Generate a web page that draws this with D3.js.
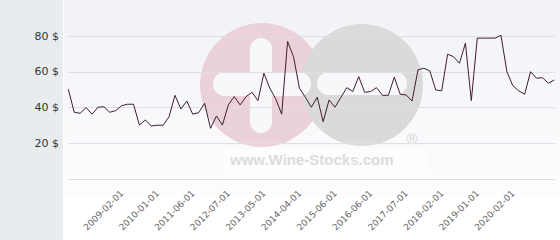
<!DOCTYPE html>
<html>
<head>
<meta charset="utf-8">
<script src="https://cdn.jsdelivr.net/npm/d3@7"></script>
<style>
  html, body { margin: 0; padding: 0; background: #fff; }
  svg { display: block; font-family: "DejaVu Sans", Verdana, sans-serif; }
</style>
</head>
<body>
<div class="price-chart"></div>
<script>
// prices in $, one per auction point
const prices = [
  50.1, 37.2, 36.6, 39.8, 36.1, 40.0, 40.3, 37.2, 38.1, 40.9,
  41.7, 41.7, 30.0, 32.9, 29.5, 29.9, 29.9, 34.7, 46.7, 39.0,
  43.5, 36.1, 37.0, 42.2, 28.2, 35.1, 30.0, 41.3, 46.0, 41.3,
  46.0, 48.4, 43.7, 59.1, 50.7, 44.7, 36.1, 76.9, 68.4, 50.7,
  45.6, 40.0, 45.6, 31.9, 44.1, 40.0, 45.6, 51.0, 48.8, 57.2,
  48.4, 48.8, 51.0, 46.7, 46.7, 56.9, 47.3, 46.9, 43.5, 61.0,
  61.9, 60.4, 49.7, 49.2, 69.8, 68.4, 64.7, 76.0, 43.7, 78.8,
  78.8, 78.8, 78.8, 80.4, 60.0, 52.1, 49.2, 47.3, 60.0, 56.3,
  56.6, 53.5, 55.3
]
// labelled categories and the point each one sits on
const tickLabels = [
  "2009-02-01", "2010-01-01", "2011-06-01", "2012-07-01", "2013-05-01", "2014-04-01",
  "2015-06-01", "2016-06-01", "2017-07-01", "2018-02-01", "2019-01-01", "2020-02-01"
]
const tickPoints = [9, 15, 21, 27, 33, 39, 45, 51, 57, 63, 69, 75]
const yTicks = [20, 40, 60, 80]

function drawChart() {
  const width = 560
  const height = 240

  const svg = d3.select(".price-chart").append("svg")
    .attr("width", width)
    .attr("height", height)

  const defs = svg.append("defs")
  const grad = defs.append("linearGradient")
    .attr("id", "plotBg")
    .attr("x1", 0).attr("y1", 0).attr("x2", 0).attr("y2", 1)
  grad.append("stop").attr("offset", "0%").attr("stop-color", "#f1f2f7")
  grad.append("stop").attr("offset", "100%").attr("stop-color", "#fdfdfe")

  // left panel + plot background
  svg.append("rect").attr("width", 63).attr("height", height).attr("fill", "#e8ecef")
  svg.append("rect").attr("x", 64).attr("width", width - 64).attr("height", 195).attr("fill", "url(#plotBg)")

  const x = d3.scaleLinear()
    .domain([0, prices.length - 1])
    .range([68.3, 554.3])

  const y = d3.scaleLinear()
    .domain([0, 80])
    .range([178.5, 36])

  // watermark
  const wm = svg.append("g")
  wm.append("circle").attr("cx", 262).attr("cy", 85).attr("r", 62).attr("fill", "#ebd1d9")
  wm.append("circle").attr("cx", 362).attr("cy", 85).attr("r", 61).attr("fill", "#dadada")
  wm.append("rect").attr("x", 250).attr("y", 38).attr("width", 22).attr("height", 95).attr("rx", 11).attr("fill", "#f8f8fb")
  wm.append("rect").attr("x", 213).attr("y", 72).attr("width", 98).attr("height", 24).attr("rx", 12).attr("fill", "#f8f8fb")
  wm.append("rect").attr("x", 317).attr("y", 72).attr("width", 90).attr("height", 23).attr("rx", 11.5).attr("fill", "#f8f8fb")
  wm.append("rect").attr("x", 222).attr("y", 149).attr("width", 206).attr("height", 25).attr("fill", "#ffffff").attr("opacity", 0.6)
  wm.append("text")
    .attr("x", 230).attr("y", 165)
    .attr("font-family", "'Liberation Sans', Arial, sans-serif")
    .attr("font-weight", "bold")
    .attr("font-size", 15)
    .attr("fill", "#dcdcdc")
    .text("www.Wine-Stocks.com")
  wm.append("text")
    .attr("x", 412).attr("y", 144)
    .attr("text-anchor", "middle")
    .attr("font-family", "'Liberation Sans', Arial, sans-serif")
    .attr("font-size", 15)
    .attr("fill", "#d3d3d3")
    .text("®")

  // grid lines
  svg.append("g")
    .selectAll("line")
    .data([0].concat(yTicks))
    .enter().append("line")
    .attr("x1", 68).attr("x2", 555)
    .attr("y1", d => Math.round(y(d)) + 0.5)
    .attr("y2", d => Math.round(y(d)) + 0.5)
    .attr("stroke", "#dfdfe3")
    .attr("stroke-width", 1)

  // y labels
  svg.append("g")
    .selectAll("text")
    .data(yTicks)
    .enter().append("text")
    .attr("x", 59)
    .attr("y", d => y(d))
    .attr("dy", "0.35em")
    .attr("text-anchor", "end")
    .attr("font-size", 11)
    .attr("fill", "#333")
    .text(d => `${d} $`)

  // x labels
  svg.append("g")
    .selectAll("text")
    .data(tickPoints)
    .enter().append("text")
    .attr("transform", d => `translate(${x(d) + 2.5},194) rotate(-45)`)
    .attr("text-anchor", "end")
    .attr("font-size", 9)
    .attr("fill", "#666")
    .text((d, i) => tickLabels[i])

  const line = d3.line()
    .x((d, i) => x(i))
    .y(d => y(d))

  svg.append("path")
    .datum(prices)
    .attr("fill", "none")
    .attr("stroke", "#3f1e30")
    .attr("stroke-width", 1)
    .attr("stroke-linejoin", "round")
    .attr("d", line)
}

drawChart()
</script>
</body>
</html>
